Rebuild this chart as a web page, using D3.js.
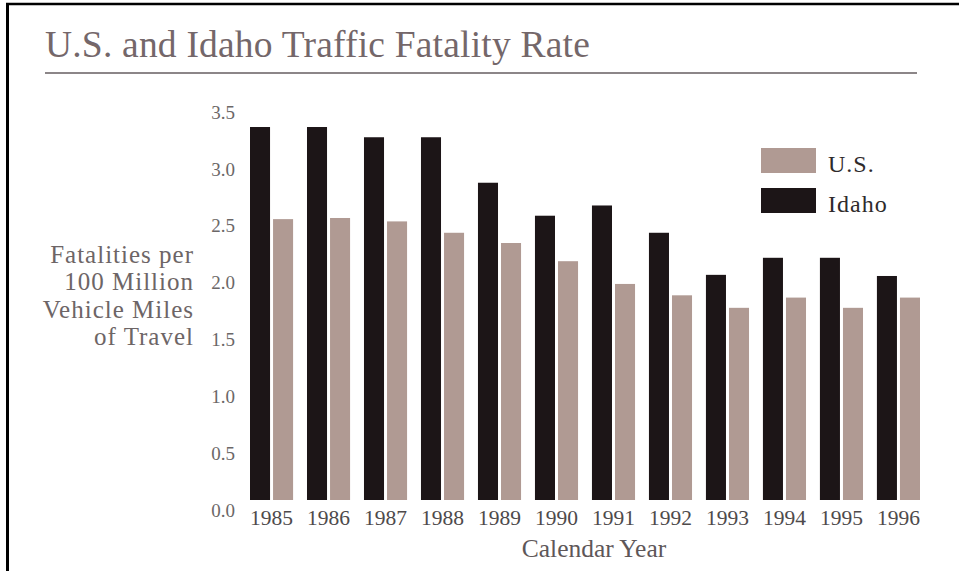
<!DOCTYPE html>
<html>
<head>
<meta charset="utf-8">
<script src="https://cdn.jsdelivr.net/npm/d3@7"></script>
<style>
  html, body { margin: 0; padding: 0; background: #ffffff; }
  svg { display: block; }
  text { font-family: "Liberation Serif", "DejaVu Serif", serif; }
</style>
</head>
<body>
<svg id="chart" width="959" height="571"></svg>
<script>
// Fatalities per 100 million vehicle miles of travel, by calendar year
const years = ["1985", "1986", "1987", "1988", "1989", "1990", "1991", "1992", "1993", "1994", "1995", "1996"];
const idahoRate = [3.28, 3.28, 3.19, 3.19, 2.79, 2.50, 2.59, 2.35, 1.98, 2.13, 2.13, 1.97];
const usRate    = [2.47, 2.48, 2.45, 2.35, 2.26, 2.10, 1.90, 1.80, 1.69, 1.78, 1.69, 1.78];
const seriesNames = ["Idaho", "U.S."];
const legendOrder = ["U.S.", "Idaho"];
const yTicks = [0, 0.5, 1.0, 1.5, 2.0, 2.5, 3.0, 3.5];
const yTitleLines = ["Fatalities per", "100 Million", "Vehicle Miles", "of Travel"];

const colors = { "Idaho": "#1c1517", "U.S.": "#b09a93" };
const rows = years.map((yr, i) => ({ year: yr, "Idaho": idahoRate[i], "U.S.": usRate[i] }));

const svg = d3.select("#chart");

// page frame (top and left edges)
svg.append("line").attr("x1", 6).attr("x2", 959).attr("y1", 4).attr("y2", 4)
  .attr("stroke", "#000").attr("stroke-width", 2.5);
svg.append("line").attr("x1", 7.5).attr("x2", 7.5).attr("y1", 3).attr("y2", 571)
  .attr("stroke", "#000").attr("stroke-width", 3);

// title and rule beneath it
svg.append("text")
  .attr("x", 45).attr("y", 57)
  .attr("font-size", 37.5)
  .attr("letter-spacing", 0.2)
  .attr("fill", "#74676a")
  .text("U.S. and Idaho Traffic Fatality Rate");
svg.append("line").attr("x1", 45).attr("x2", 917).attr("y1", 73).attr("y2", 73)
  .attr("stroke", "#8c8688").attr("stroke-width", 2);

// scales
const x0 = d3.scaleBand().domain(years).range([250, 920]).paddingInner(0.244).paddingOuter(0);
const x1 = d3.scaleBand().domain(seriesNames).range([0, x0.bandwidth()]).paddingInner(0.1304).paddingOuter(0);
const y = d3.scaleLinear().domain([0, 3.5]).range([500, 102]);

// bars
const groups = svg.append("g").selectAll("g")
  .data(rows).join("g")
  .attr("transform", d => `translate(${x0(d.year)},0)`);
groups.selectAll("rect")
  .data(d => seriesNames.map(s => ({ key: s, value: d[s] })))
  .join("rect")
  .attr("x", d => x1(d.key))
  .attr("width", x1.bandwidth())
  .attr("y", d => y(d.value))
  .attr("height", d => y(0) - y(d.value))
  .attr("fill", d => colors[d.key]);

// y axis labels
const yAxis = svg.append("g")
  .attr("transform", "translate(235,0)")
  .call(d3.axisLeft(y).tickValues(yTicks).tickFormat(d3.format(".1f")).tickSize(0).tickPadding(0));
yAxis.select(".domain").remove();
yAxis.selectAll("text")
  .attr("dy", "0.85em")
  .attr("font-size", 19)
  .attr("font-family", "Liberation Serif, serif")
  .attr("fill", "#6b6767");

// x axis labels
const xAxis = svg.append("g")
  .attr("transform", "translate(0,500)")
  .call(d3.axisBottom(x0).tickSize(0).tickPadding(10));
xAxis.select(".domain").remove();
xAxis.selectAll("text")
  .attr("font-size", 21.5)
  .attr("font-family", "Liberation Serif, serif")
  .attr("fill", "#4e4a4b");

// axis titles
svg.append("text")
  .attr("x", 594).attr("y", 557)
  .attr("text-anchor", "middle")
  .attr("font-size", 25.5)
  .attr("fill", "#5e5759")
  .text("Calendar Year");

const yTitle = svg.append("text")
  .attr("text-anchor", "end")
  .attr("font-size", 25)
  .attr("letter-spacing", 1)
  .attr("fill", "#6d6566");
yTitle.selectAll("tspan")
  .data(yTitleLines).join("tspan")
  .attr("x", 194)
  .attr("y", (d, i) => 263 + i * 27.4)
  .text(d => d);

// legend
const legend = svg.append("g").selectAll("g")
  .data(legendOrder).join("g")
  .attr("transform", (d, i) => `translate(761,${148 + i * 40})`);
legend.append("rect")
  .attr("width", 55).attr("height", 25)
  .attr("fill", d => colors[d]);
legend.append("text")
  .attr("x", 67).attr("y", 24)
  .attr("font-size", 24)
  .attr("letter-spacing", 1)
  .attr("fill", "#2e2a2b")
  .text(d => d);
</script>
</body>
</html>
